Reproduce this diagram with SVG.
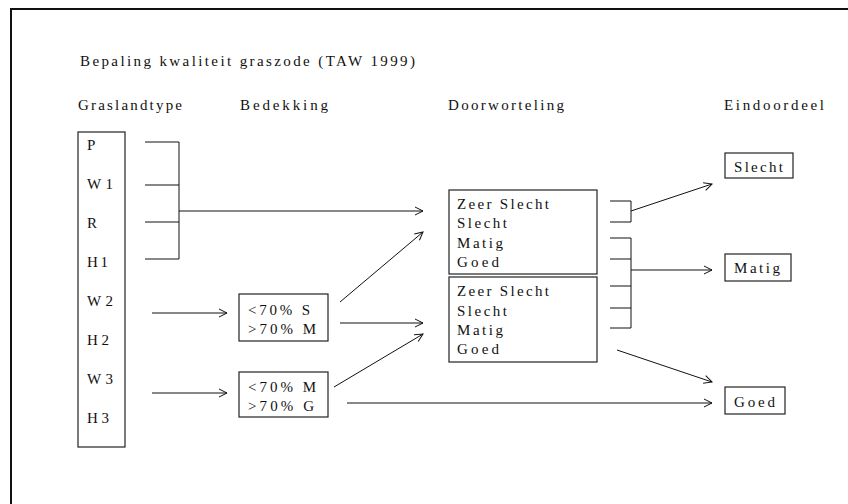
<svg xmlns="http://www.w3.org/2000/svg" width="848" height="504" viewBox="0 0 848 504">
<style>
text{font-family:"Liberation Serif","Times New Roman",serif;font-size:15px;fill:#111}
.b{fill:none;stroke:#222;stroke-width:1.2}
.c{fill:none;stroke:#111;stroke-width:1}
.a{marker-end:url(#ah)}
</style>
<defs>
<marker id="ah" markerUnits="userSpaceOnUse" markerWidth="12" markerHeight="12" refX="9" refY="5" orient="auto">
<path d="M1,1 L9,5 L1,9" fill="none" stroke="#111" stroke-width="1"/>
</marker>
</defs>
<rect width="848" height="504" fill="#fff"/>
<g id="frame">
<line x1="11" y1="9" x2="848" y2="9" stroke="#111" stroke-width="2"/>
<line x1="11" y1="8" x2="11" y2="504" stroke="#111" stroke-width="2"/>
</g>
<g id="title">
<text x="80" y="66" textLength="335" lengthAdjust="spacing">Bepaling kwaliteit graszode (TAW 1999)</text>
</g>
<g id="headings">
<text x="78" y="110" textLength="104" lengthAdjust="spacing">Graslandtype</text>
<text x="240" y="110" textLength="88" lengthAdjust="spacing">Bedekking</text>
<text x="448" y="110" textLength="116" lengthAdjust="spacing">Doorworteling</text>
<text x="724" y="110" textLength="100" lengthAdjust="spacing">Eindoordeel</text>
</g>
<g id="graslandtype">
<rect class="b" x="78" y="132" width="47" height="315"/>
<text x="87" y="150">P</text>
<text x="87" y="189" textLength="26" lengthAdjust="spacing">W 1</text>
<text x="87" y="228">R</text>
<text x="87" y="267" textLength="21" lengthAdjust="spacing">H 1</text>
<text x="87" y="306" textLength="26" lengthAdjust="spacing">W 2</text>
<text x="87" y="345" textLength="22" lengthAdjust="spacing">H 2</text>
<text x="87" y="384" textLength="26" lengthAdjust="spacing">W 3</text>
<text x="87" y="423" textLength="22" lengthAdjust="spacing">H 3</text>
</g>
<g id="bedekking1">
<rect class="b" x="239" y="294" width="89" height="47"/>
<text x="248" y="315" textLength="62" lengthAdjust="spacing">&lt;70% S</text>
<text x="248" y="334" textLength="68" lengthAdjust="spacing">&gt;70% M</text>
</g>
<g id="bedekking2">
<rect class="b" x="239" y="372" width="89" height="45"/>
<text x="248" y="392" textLength="68" lengthAdjust="spacing">&lt;70% M</text>
<text x="248" y="411" textLength="66" lengthAdjust="spacing">&gt;70% G</text>
</g>
<g id="doorworteling1">
<rect class="b" x="449" y="190" width="148" height="84"/>
<text x="457" y="209" textLength="92" lengthAdjust="spacing">Zeer Slecht</text>
<text x="457" y="228" textLength="50" lengthAdjust="spacing">Slecht</text>
<text x="457" y="248" textLength="46" lengthAdjust="spacing">Matig</text>
<text x="457" y="267" textLength="42" lengthAdjust="spacing">Goed</text>
</g>
<g id="doorworteling2">
<rect class="b" x="449" y="277" width="148" height="85"/>
<text x="457" y="296" textLength="92" lengthAdjust="spacing">Zeer Slecht</text>
<text x="457" y="316" textLength="50" lengthAdjust="spacing">Slecht</text>
<text x="457" y="335" textLength="46" lengthAdjust="spacing">Matig</text>
<text x="457" y="354" textLength="42" lengthAdjust="spacing">Goed</text>
</g>
<g id="eind-slecht">
<rect class="b" x="725" y="153" width="68" height="25"/>
<text x="734" y="172" textLength="49" lengthAdjust="spacing">Slecht</text>
</g>
<g id="eind-matig">
<rect class="b" x="725" y="254" width="66" height="27"/>
<text x="734" y="273" textLength="46" lengthAdjust="spacing">Matig</text>
</g>
<g id="eind-goed">
<rect class="b" x="725" y="387" width="60" height="27"/>
<text x="734" y="407" textLength="41" lengthAdjust="spacing">Goed</text>
</g>
<g id="connectors">
<path class="c" d="M145,142 H179 V259 H145 M145,185 H179 M145,222 H179"/>
<line class="c a" x1="179" y1="211" x2="423" y2="211"/>
<line class="c a" x1="152" y1="313" x2="227" y2="313"/>
<line class="c a" x1="152" y1="393" x2="227" y2="393"/>
<line class="c a" x1="340" y1="302" x2="423" y2="232"/>
<line class="c a" x1="340" y1="323" x2="423" y2="323"/>
<line class="c a" x1="334" y1="387" x2="423" y2="334"/>
<line class="c a" x1="347" y1="403" x2="712" y2="403"/>
<path class="c" d="M610,201 H631 V222 H610"/>
<line class="c a" x1="631" y1="211" x2="712" y2="184"/>
<path class="c" d="M610,238 H631 V328 H610 M610,259 H631 M610,286 H631 M610,308 H631"/>
<line class="c a" x1="631" y1="270" x2="712" y2="270"/>
<line class="c a" x1="617" y1="350" x2="712" y2="382"/>
</g>
</svg>
